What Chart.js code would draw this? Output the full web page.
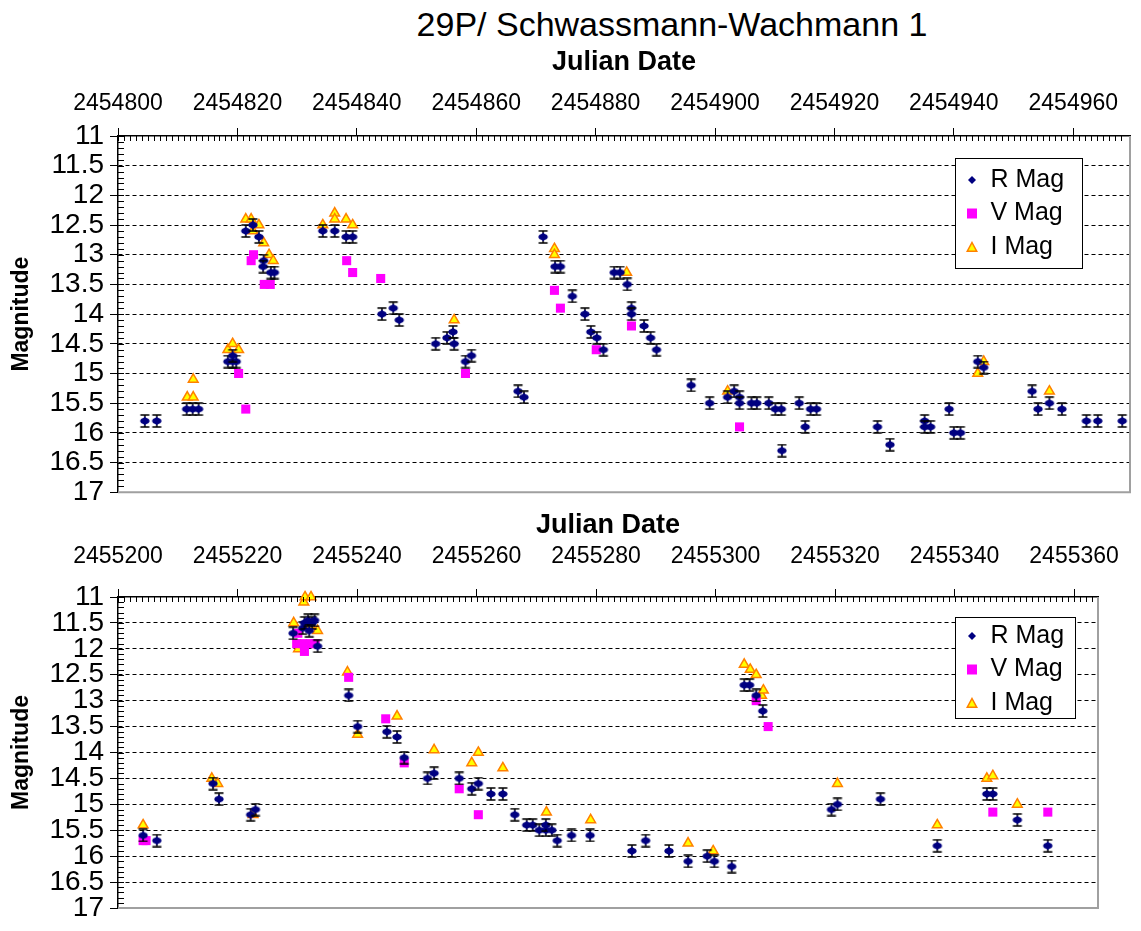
<!DOCTYPE html>
<html>
<head>
<meta charset="utf-8">
<script src="https://cdn.jsdelivr.net/npm/chart.js@4.4.1/dist/chart.umd.min.js"></script>
<style>
  body { margin: 0; background: #fff; width: 1141px; height: 931px; position: relative; overflow: hidden;
         font-family: "Liberation Sans", Arial, sans-serif; }
  #title { position: absolute; left: 372px; top: 2px; width: 600px; text-align: center;
           font-size: 34px; line-height: 44px; color: #000; }
  #c1 { position: absolute; left: 0; top: 0; }
  #c2 { position: absolute; left: 0; top: 512px; }
</style>
</head>
<body>
<div id="title">29P/ Schwassmann-Wachmann 1</div>
<canvas id="c1" width="1141" height="515"></canvas>
<canvas id="c2" width="1141" height="419"></canvas>
<script>
// ---- data: upper panel (2008-2009) ----
const seriesNames = ['R Mag', 'V Mag', 'I Mag'];

const top_R_jd = [2454804.5, 2454806.5, 2454811.5, 2454812.5, 2454813.5, 2454818.4, 2454819.2, 2454819.8, 2454819.2,
  2454821.4, 2454822.6, 2454823.6, 2454824.4, 2454824.3, 2454825.6, 2454826.2,
  2454834.3, 2454836.3, 2454838.2, 2454839.3, 2454844.2, 2454846.1, 2454847.1,
  2454853.2, 2454855.1, 2454856.1, 2454856.3, 2454858.2, 2454859.2, 2454867.0, 2454868.0,
  2454871.2, 2454873.2, 2454874.1, 2454876.1, 2454878.2, 2454879.2, 2454880.2, 2454881.3,
  2454883.1, 2454884.1, 2454885.3, 2454886.0, 2454886.0, 2454888.1, 2454889.2, 2454890.2,
  2454896.0, 2454899.1, 2454902.1, 2454903.2, 2454904.1, 2454904.1, 2454906.1, 2454907.0, 2454909.0,
  2454910.1, 2454911.1, 2454911.2, 2454914.1, 2454915.1, 2454916.0, 2454917.0,
  2454927.2, 2454929.3, 2454935.1, 2454935.1, 2454936.1, 2454939.2, 2454940.0, 2454941.1,
  2454944.0, 2454945.0, 2454953.1, 2454954.1, 2454956.0, 2454958.1, 2454962.2, 2454964.1, 2454968.2];
const top_R_mag = [15.8, 15.8, 15.6, 15.6, 15.6, 14.8, 14.8, 14.8, 14.7,
  12.6, 12.5, 12.7, 13.1, 13.2, 13.3, 13.3,
  12.6, 12.6, 12.7, 12.7, 14.0, 13.9, 14.1,
  14.5, 14.4, 14.3, 14.5, 14.8, 14.7, 15.3, 15.4,
  12.7, 13.2, 13.2, 13.7, 14.0, 14.3, 14.4, 14.6,
  13.3, 13.3, 13.5, 13.9, 14.0, 14.2, 14.4, 14.6,
  15.2, 15.5, 15.4, 15.3, 15.4, 15.5, 15.5, 15.5, 15.5,
  15.6, 15.6, 16.3, 15.5, 15.9, 15.6, 15.6,
  15.9, 16.2, 15.8, 15.9, 15.9, 15.6, 16.0, 16.0,
  14.8, 14.9, 15.3, 15.6, 15.5, 15.6, 15.8, 15.8, 15.8];

const top_V_jd = [2454820.2, 2454821.4, 2454822.3, 2454822.7, 2454824.5, 2454825.5, 2454838.3, 2454839.3,
  2454844.0, 2454858.2, 2454873.1, 2454874.1, 2454880.1, 2454886.0, 2454904.1];
const top_V_mag = [15.0, 15.6, 13.1, 13.0, 13.5, 13.5, 13.1, 13.3,
  13.4, 15.0, 13.6, 13.9, 14.6, 14.2, 15.9];

const top_I_jd = [2454811.6, 2454812.6, 2454812.6, 2454818.4, 2454819.2, 2454820.2,
  2454821.4, 2454822.3, 2454822.6, 2454823.6, 2454824.4, 2454825.3, 2454826.0,
  2454834.3, 2454836.3, 2454836.3, 2454838.2, 2454839.3, 2454856.3, 2454873.1, 2454873.1,
  2454885.2, 2454902.1, 2454944.0, 2454945.0, 2454956.0];
const top_I_mag = [15.4, 15.4, 15.1, 14.6, 14.5, 14.6,
  12.4, 12.4, 12.6, 12.5, 12.8, 13.0, 13.1,
  12.5, 12.3, 12.4, 12.4, 12.5, 14.1, 12.9, 13.0,
  13.3, 15.3, 15.0, 14.8, 15.3];

// ---- data: lower panel (2010) ----
const bot_R_jd = [2455204.2, 2455206.5, 2455215.9, 2455216.9, 2455222.2, 2455223.0,
  2455229.3, 2455230.9, 2455231.2, 2455231.8, 2455232.5, 2455232.9, 2455232.0, 2455233.4,
  2455238.6, 2455240.1, 2455245.0, 2455246.7, 2455247.9, 2455251.8, 2455252.9, 2455257.1,
  2455259.2, 2455260.3, 2455262.4, 2455264.4, 2455266.4, 2455268.4, 2455269.4, 2455270.5,
  2455271.6, 2455271.6, 2455272.6, 2455273.5, 2455275.9, 2455279.0, 2455286.0, 2455288.3,
  2455292.2, 2455295.4, 2455298.6, 2455299.8, 2455302.7, 2455304.8, 2455305.7, 2455306.8,
  2455307.9, 2455319.4, 2455320.4, 2455327.6, 2455337.1, 2455345.4, 2455346.4, 2455350.5, 2455355.6];
const bot_R_mag = [15.6, 15.7, 14.6, 14.9, 15.2, 15.1,
  11.7, 11.6, 11.5, 11.45, 11.5, 11.45, 11.65, 11.95,
  12.9, 13.5, 13.6, 13.7, 14.1, 14.5, 14.4, 14.5,
  14.7, 14.6, 14.8, 14.8, 15.2, 15.4, 15.4, 15.5,
  15.5, 15.4, 15.5, 15.7, 15.6, 15.6, 15.9, 15.7,
  15.9, 16.1, 16.0, 16.1, 16.2, 12.7, 12.7, 12.9,
  13.2, 15.1, 15.0, 14.9, 15.8, 14.8, 14.8, 15.3, 15.8];

const bot_V_jd = [2455204.2, 2455204.7, 2455230.1, 2455229.9, 2455230.9, 2455232.2, 2455233.0,
  2455231.2, 2455238.6, 2455244.8, 2455247.9, 2455257.1, 2455260.3, 2455306.8, 2455308.8,
  2455346.4, 2455355.6];
const bot_V_mag = [15.7, 15.7, 11.7, 11.9, 11.9, 11.9, 11.9,
  12.05, 12.55, 13.35, 14.2, 14.7, 15.2, 13.0, 13.5,
  15.15, 15.15];

const bot_I_jd = [2455204.2, 2455215.7, 2455216.7, 2455222.6, 2455229.4, 2455230.2, 2455231.1, 2455231.3,
  2455232.3, 2455232.2, 2455233.4, 2455238.4, 2455240.1, 2455246.7, 2455252.9, 2455259.2,
  2455260.3, 2455264.4, 2455271.7, 2455279.1, 2455295.4, 2455299.6, 2455304.8, 2455305.8,
  2455306.8, 2455307.7, 2455308.0, 2455320.4, 2455337.1, 2455345.4, 2455346.4, 2455350.5];
const bot_I_mag = [15.4, 14.5, 14.6, 15.2, 11.5, 12.0, 11.1, 11.0,
  11.0, 11.55, 11.65, 12.45, 13.65, 13.3, 13.95, 14.2,
  14.0, 14.3, 15.15, 15.3, 15.75, 15.9, 12.3, 12.4,
  12.5, 12.9, 12.8, 14.6, 15.4, 14.5, 14.45, 15.0];

// ---- axis ranges / labels ----
const magMin = 11, magMax = 17;
const topJdMin = 2454800, topJdMax = 2454969.5;
const botJdMin = 2455200, botJdMax = 2455364;
const xTitle = 'Julian Date';
const yTitle = 'Magnitude';

Chart.defaults.font.family = '"Liberation Sans", Arial, sans-serif';
Chart.defaults.color = '#000';

// marker images
function rMarker() {
  const c = document.createElement('canvas');
  c.width = 12; c.height = 14;
  const g = c.getContext('2d');
  g.strokeStyle = '#000'; g.lineWidth = 1.5;
  g.beginPath();
  g.moveTo(1.5, 1); g.lineTo(10.5, 1);
  g.moveTo(1.5, 13); g.lineTo(10.5, 13);
  g.moveTo(6, 1); g.lineTo(6, 13);
  g.stroke();
  g.fillStyle = '#000080';
  g.beginPath();
  g.moveTo(6, 2.5); g.lineTo(10.5, 7); g.lineTo(6, 11.5); g.lineTo(1.5, 7); g.closePath();
  g.fill();
  g.beginPath(); g.ellipse(6, 7, 4.6, 3, 0, 0, Math.PI * 2); g.fill();
  return c;
}
function legendMark(kind) {
  const c = document.createElement('canvas');
  c.width = 12; c.height = 12;
  const g = c.getContext('2d');
  if (kind === 0) {
    g.fillStyle = '#000080';
    g.beginPath(); g.moveTo(6, 2); g.lineTo(10, 6); g.lineTo(6, 10); g.lineTo(2, 6); g.closePath(); g.fill();
  } else if (kind === 1) {
    g.fillStyle = '#ff00ff';
    g.fillRect(1, 1, 10, 10);
  } else {
    g.fillStyle = '#ffff00'; g.strokeStyle = '#ff8000'; g.lineWidth = 1.5;
    g.beginPath(); g.moveTo(6, 1.5); g.lineTo(10.8, 10.3); g.lineTo(1.2, 10.3); g.closePath();
    g.fill(); g.stroke();
  }
  return c;
}
const rImg = rMarker();
const legendMarks = [legendMark(0), legendMark(1), legendMark(2)];

function pts(xs, ys) { return xs.map((x, i) => ({ x: x, y: ys[i] })); }

function makeDatasets(rj, rm, vj, vm, ij, im) {
  return [
    { label: seriesNames[0], data: pts(rj, rm), pointStyle: rImg, pointRadius: 6,
      backgroundColor: '#000080', borderColor: '#000080', clip: false },
    { label: seriesNames[1], data: pts(vj, vm), pointStyle: 'rect', pointRadius: 6.4,
      backgroundColor: '#ff00ff', borderColor: '#ff00ff', borderWidth: 0, clip: false },
    { label: seriesNames[2], data: pts(ij, im), pointStyle: 'triangle', pointRadius: 5.6,
      backgroundColor: '#ffff00', borderColor: '#ff8000', borderWidth: 1.5, clip: false }
  ];
}

const isHalf = v => Math.abs(v * 2 - Math.round(v * 2)) < 1e-6;

// inner minor ticks, plot frame, framed legend
const framePlugin = {
  id: 'frame',
  afterLayout(chart, args, o) {
    const lg = chart.legend, ca = chart.chartArea;
    lg.left = ca.right - o.right - o.w + o.xShift;
    lg.top = ca.top + o.top + o.shift;
    lg.width = o.w;
    lg.right = lg.left + o.w;
    lg.bottom = ca.bottom;
    lg.height = lg.bottom - lg.top;
  },
  afterDraw(chart, args, o) {
    const ctx = chart.ctx, ca = chart.chartArea;
    const xs = chart.scales.x, ys = chart.scales.y;
    ctx.save();
    ctx.strokeStyle = '#000'; ctx.lineWidth = 1;
    ctx.beginPath();
    xs.ticks.forEach(t => {
      const px = Math.round(xs.getPixelForValue(t.value)) + 0.5;
      ctx.moveTo(px, ca.top); ctx.lineTo(px, ca.top + 5);
    });
    ys.ticks.forEach(t => {
      const py = Math.round(ys.getPixelForValue(t.value)) + 0.5;
      ctx.moveTo(ca.left, py); ctx.lineTo(ca.left + 6, py);
    });
    ctx.stroke();
    ctx.strokeStyle = '#a0a0a0'; ctx.lineWidth = 2;
    ctx.beginPath();
    ctx.moveTo(ca.right, ca.top); ctx.lineTo(ca.right, ca.bottom); ctx.lineTo(ca.left, ca.bottom);
    ctx.stroke();
    const x = Math.round(ca.right - o.right - o.w), y = Math.round(ca.top + o.top);
    ctx.fillStyle = '#fff';
    ctx.fillRect(x, y, o.w, o.h);
    ctx.strokeStyle = '#000'; ctx.lineWidth = 1;
    ctx.strokeRect(x + 0.5, y + 0.5, o.w, o.h);
    ctx.restore();
    chart.legend.draw();
  }
};

function makeChart(id, cfg) {
  return new Chart(document.getElementById(id), {
    type: 'scatter',
    data: { datasets: makeDatasets(...cfg.series) },
    options: {
      responsive: false,
      animation: false,
      devicePixelRatio: 1,
      layout: { padding: cfg.pad },
      plugins: {
        title: { display: false },
        tooltip: { enabled: false },
        legend: {
          position: 'chartArea',
          align: 'start',
          labels: {
            usePointStyle: true, boxWidth: 12, boxHeight: 12, padding: 8.5,
            color: '#000', font: { size: 25 },
            generateLabels(chart) {
              const items = Chart.defaults.plugins.legend.labels.generateLabels(chart);
              items.forEach((it, i) => { it.pointStyle = legendMarks[i]; });
              return items;
            }
          }
        },
        frame: cfg.legendBox
      },
      scales: {
        x: {
          type: 'linear', position: 'top',
          min: cfg.xmin, max: cfg.xmax,
          afterFit: s => { s.height = cfg.xAxisH; },
          title: { display: true, text: xTitle, font: { size: 27, weight: 'bold', lineHeight: 1 },
                   padding: { top: cfg.xTitlePad, bottom: 0 } },
          ticks: {
            stepSize: 1, autoSkip: false, maxRotation: 0, minRotation: 0,
            padding: cfg.xTickPad, font: { size: 23 }, color: '#000',
            callback: v => {
              const r = Math.round(v);
              return (Math.abs(v - r) < 1e-6 && (r - cfg.xmin) % 20 === 0) ? String(r) : '';
            }
          },
          grid: {
            drawOnChartArea: false, tickLength: 8, tickWidth: 1,
            tickColor: c => {
              const v = c.tick ? c.tick.value : 0;
              const r = Math.round(v);
              return (Math.abs(v - r) < 1e-6 && (r - cfg.xmin) % 20 === 0) ? '#000' : 'rgba(0,0,0,0)';
            }
          },
          border: { display: true, color: '#000', width: 1.5 }
        },
        y: {
          type: 'linear', reverse: true,
          min: magMin, max: magMax,
          afterFit: s => { s.width = 118; },
          title: { display: true, text: yTitle, font: { size: 23, weight: 'bold', lineHeight: 1 },
                   padding: { top: 10.5, bottom: 0 } },
          ticks: {
            stepSize: 0.1, autoSkip: false, padding: 6, font: { size: 28 }, color: '#000',
            callback: v => isHalf(v) ? String(Math.round(v * 2) / 2) : ''
          },
          grid: {
            color: c => {
              const v = c.tick ? c.tick.value : 0;
              return (isHalf(v) && v > magMin + 0.01 && v < magMax - 0.01) ? '#000' : 'rgba(0,0,0,0)';
            },
            lineWidth: 1, tickLength: 8, tickWidth: 1,
            tickColor: c => (c.tick && isHalf(c.tick.value)) ? '#000' : 'rgba(0,0,0,0)'
          },
          border: { display: true, color: '#000', width: 1.5, dash: [4, 3] }
        }
      }
    },
    plugins: [framePlugin]
  });
}

makeChart('c1', {
  series: [top_R_jd, top_R_mag, top_V_jd, top_V_mag, top_I_jd, top_I_mag],
  xmin: topJdMin, xmax: topJdMax,
  pad: { top: 40, left: 0, right: 8, bottom: 17 },
  xAxisH: 96, xTitlePad: 9.5, xTickPad: 11,
  legendBox: { right: 48, top: 22, w: 127, h: 110, shift: 1, xShift: 2.5 }
});

makeChart('c2', {
  series: [bot_R_jd, bot_R_mag, bot_V_jd, bot_V_mag, bot_I_jd, bot_I_mag],
  xmin: botJdMin, xmax: botJdMax,
  pad: { top: 0, left: 0, right: 43, bottom: 23 },
  xAxisH: 85, xTitlePad: 0, xTickPad: 19,
  legendBox: { right: 23, top: 20, w: 120, h: 101, shift: -2, xShift: 2.5 }
});
</script>
</body>
</html>
